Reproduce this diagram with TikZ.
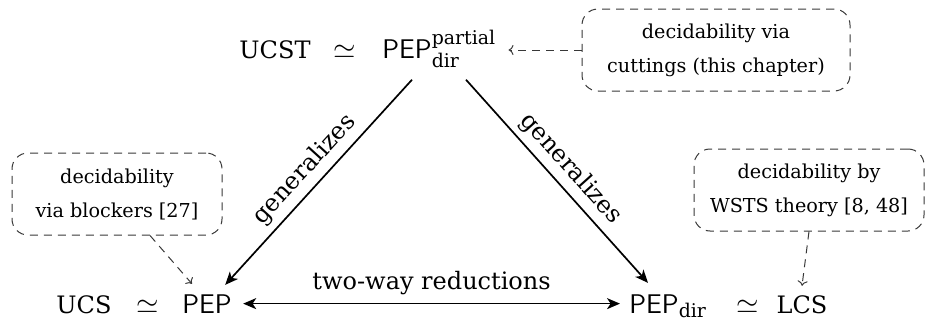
\documentclass[tikz,border=0pt]{standalone}
\usepackage{amsmath}
\usepackage{fontspec}
\setmainfont{DejaVu Serif}
\usetikzlibrary{arrows.meta,calc}
\tikzset{
  mainlbl/.style={inner sep=0pt,anchor=base,font=\fontsize{12}{15}\selectfont},
  mainlblw/.style={inner sep=0pt,anchor=base west,font=\fontsize{13.5}{16}\selectfont},
  callout/.style={draw=black!78,line width=0.5pt,dash pattern=on 4pt off 3pt,rounded corners=8pt,
    align=center,font=\fontsize{9.6}{17}\selectfont,minimum height=41pt,inner sep=0pt},
  mainarrow/.style={line width=0.85pt,-{Stealth[length=6.5pt,width=5.5pt,inset=1.8pt]}},
  twoarrow/.style={line width=0.85pt,{Stealth[length=6.5pt,width=5.5pt,inset=1.8pt]}-{Stealth[length=6.5pt,width=5.5pt,inset=1.8pt]}},
  notearrow/.style={draw=black!78,line width=0.5pt,dash pattern=on 4pt off 3pt,-{To[length=2.5pt,width=5pt]}},
  genlbl/.style={font=\fontsize{12}{15}\selectfont,sloped,above,inner sep=3pt}
}
\begin{document}
\begin{tikzpicture}[x=0.5pt,y=-0.5pt]
\useasboundingbox (0,0) rectangle (926,321);
% top row
\node[mainlbl] (ucst) at (275,58) {UCST};
\node[mainlbl] (sim1) at (345,58) {\fontsize{13.5}{16}\selectfont$\simeq$};
\node[mainlblw] (ptop) at (382,58) {\textsf{PEP}$^{\text{partial}}_{\text{dir}}$};
% bottom row
\node[mainlbl] (ucs) at (84,313) {UCS};
\node[mainlbl] (sim2) at (148,313) {\fontsize{13.5}{16}\selectfont$\simeq$};
\node[mainlblw] (pep) at (182,313) {\textsf{PEP}};
\node[mainlblw] (pepdir) at (629,313) {\textsf{PEP}$_{\text{dir}}$};
\node[mainlbl] (sim3) at (748,313) {\fontsize{13.5}{16}\selectfont$\simeq$};
\node[mainlbl] (lcs) at (802,313) {LCS};
% callouts
\node[callout,minimum width=134pt] (c1) at (716,50) {decidability via\\cuttings (this chapter)};
\node[callout,minimum width=105pt] (c2) at (117,194) {decidability\\via blockers [27]};
\node[callout,minimum width=115pt] (c3) at (809,190) {decidability by\\WSTS theory [8, 48]};
% main arrows
\draw[mainarrow] ($(ptop.south west)+(30,12)$) -- node[genlbl] {generalizes} ($(pep.north east)+(-7,-9)$);
\draw[mainarrow] ($(ptop.south west)+(84,12)$) -- node[genlbl] {generalizes} ($(pepdir.north west)+(19,-11)$);
\draw[twoarrow] ($(pep.east)+(11,0)$) -- node[above=4pt,font=\fontsize{12}{15}\selectfont,inner sep=0pt] (twl) {two-way reductions} ($(pep.east -| pepdir.west)+(-9,0)$);
% note arrows
\draw[notearrow] (c1.west) -- ($(c1.west -| ptop.east)+(12,0)$);
\draw[notearrow] ($(c2.south)+(33,0)$) -- ($(pep.north west)+(10,-10)$);
\draw[notearrow] (c3.south) -- ($(lcs.north)+(0,-9)$);
\end{tikzpicture}
\end{document}
